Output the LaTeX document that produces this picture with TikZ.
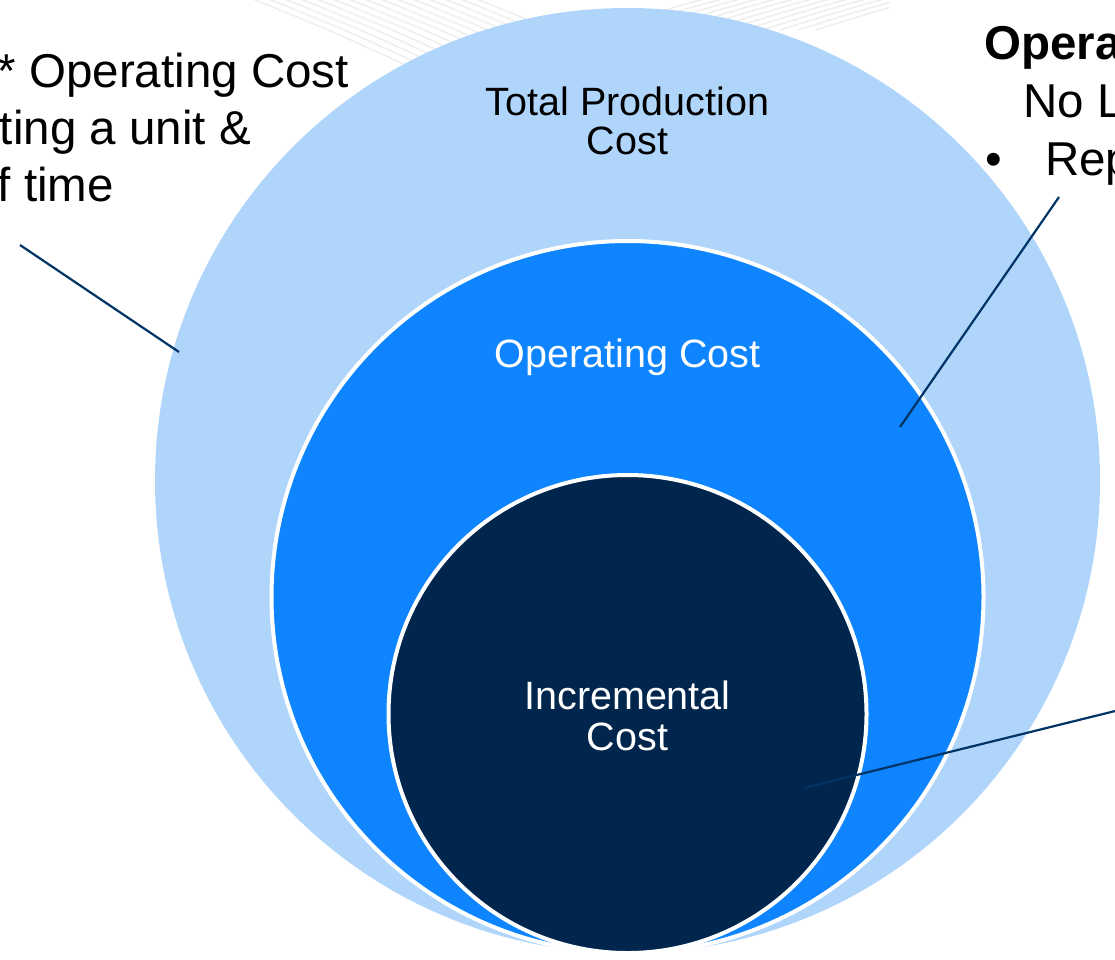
\documentclass[tikz,border=0pt]{standalone}
\usepackage{fontspec}
\setmainfont{Liberation Sans}
\definecolor{outerc}{RGB}{176,213,251}
\definecolor{midc}{RGB}{14,133,254}
\definecolor{innerc}{RGB}{0,38,77}
\definecolor{linec}{RGB}{0,51,102}
\definecolor{faintc}{RGB}{238,238,238}
\begin{document}
\begin{tikzpicture}[x=1pt,y=-1pt,
  ring/.style={circle, inner sep=0pt, outer sep=0pt},
  bigtext/.style={font=\fontsize{47.5}{57}\selectfont, inner sep=0pt, text=black},
  ctext/.style={font=\fontsize{39.5}{40}\selectfont, inner sep=0pt, anchor=base},
  leader/.style={draw=linec, line width=2.2pt},
  faint/.style={draw=faintc, line width=1.5pt}]
\useasboundingbox (0,0) rectangle (1115,959);
\clip (0,0) rectangle (1115,959);
% faint background pattern at the top
\begin{scope}
\clip (570,0) ellipse [x radius=320pt, y radius=75pt];
\foreach \k in {0,...,14} {
  \draw[faint] (230+\k*16,-10) .. controls (330+\k*16,30) .. (460+\k*16,90);
}
\foreach \k in {0,...,12} {
  \draw[faint] (600+\k*18,30) .. controls (680+\k*18,5) .. (760+\k*18,-15);
}
\end{scope}
% circles
\node[ring, fill=outerc, minimum size=945pt] (outer) at (627.5,480.5) {};
\node[ring, fill=midc, draw=white, line width=4pt, minimum size=712pt] (mid) at (627.5,597) {};
\node[ring, fill=innerc, draw=white, line width=4pt, minimum size=478pt] (inner) at (627.5,714) {};
% circle labels
\node[ctext] (tpc1) at (627.5,115) {Total Production};
\node[ctext] (tpc2) at (627.5,154) {Cost};
\node[ctext, text=white] (opc) at (627.5,367) {Operating Cost};
\node[ctext, text=white] (inc1) at (627.5,709) {Incremental};
\node[ctext, text=white] (inc2) at (627.5,750) {Cost};
% left text
\node[bigtext, anchor=base east] (l1) at (349,87) {* Operating Cost};
\node[bigtext, anchor=base east] (l2) at (251,144) {ting a unit \&};
\node[bigtext, anchor=base east] (l3) at (114,201) {f time};
% right text
\node[bigtext, anchor=base west] (r1) at (984,59) {\bfseries Opera};
\node[bigtext, anchor=base west] (r2) at (1023,117) {No L};
\node[bigtext, anchor=base west] (r3a) at (985,175) {•};
\node[bigtext, anchor=base west] (r3b) at (1045,175) {Rep};
% leader lines
\coordinate (a1) at (20,245);
\coordinate (a2) at (179,352);
\coordinate (b1) at (1059,197);
\coordinate (b2) at (900,427);
\coordinate (c1) at (1120,709.8);
\coordinate (c2) at (804,788);
\draw[leader] (a1) -- (a2);
\draw[leader] (b1) -- (b2);
\draw[leader] (c1) -- (c2);
\end{tikzpicture}
\end{document}
